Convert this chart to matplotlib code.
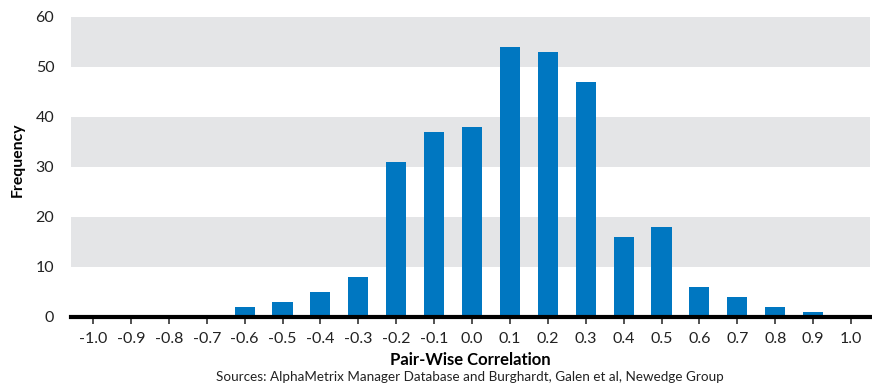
import numpy as np
import matplotlib.pyplot as plt

# ---- data ----
correlation = [-0.6, -0.5, -0.4, -0.3, -0.2, -0.1, 0.0, 0.1, 0.2, 0.3,
               0.4, 0.5, 0.6, 0.7, 0.8, 0.9]
frequency = [2, 3, 5, 8, 31, 37, 38, 54, 53, 47, 16, 18, 6, 4, 2, 1]
tick_values = [round(-1.0 + 0.1 * i, 1) for i in range(21)]
tick_labels = ["%.1f" % v for v in tick_values]
y_ticks = [0, 10, 20, 30, 40, 50, 60]
bands = [(10, 20), (30, 40), (50, 60)]

BAR_BLUE = "#0077C1"
BAND_GREY = "#E4E5E7"

plt.rcParams["font.family"] = ["Lato", "DejaVu Sans"]

fig = plt.figure(figsize=(8.72, 3.83), dpi=100)
ax = fig.add_axes([71 / 872, 1 - 316.5 / 383, (870 - 71) / 872, (316.5 - 17) / 383])

# alternating grey bands behind the bars
for lo, hi in bands:
    ax.axhspan(lo, hi, color=BAND_GREY, zorder=0, lw=0)

ax.bar(correlation, frequency, width=0.053, color=BAR_BLUE, zorder=2)

ax.set_xlim(-1.058, 1.05)
ax.set_ylim(0, 60)

ax.set_xticks(tick_values)
ax.set_xticklabels(tick_labels, fontsize=11.5, color="#222222")
ax.set_yticks(y_ticks)
ax.set_yticklabels([str(v) for v in y_ticks], fontsize=11.5, color="#222222")

ax.tick_params(axis="y", length=0, pad=12)
ax.tick_params(axis="x", length=5, width=1.2, color="#333333", pad=6, direction="out")

for side in ["top", "right", "left"]:
    ax.spines[side].set_visible(False)
ax.spines["bottom"].set_linewidth(3)
ax.spines["bottom"].set_color("black")
ax.spines["bottom"].set_zorder(3)

ax.set_xlabel("Pair-Wise Correlation", fontsize=12, fontweight="bold")
ax.xaxis.set_label_coords((470 - 71) / 799, (316.5 - 360) / 299.5)
ax.xaxis.label.set_va("center")
ax.set_ylabel("Frequency", fontsize=11.3, fontweight="bold")
ax.yaxis.set_label_coords((18 - 71) / 799, (316.5 - 160) / 299.5)
ax.yaxis.label.set_va("center")

fig.text(470 / 872, 1 - 377 / 383,
         "Sources: AlphaMetrix Manager Database and Burghardt, Galen et al, Newedge Group",
         ha="center", va="center", fontsize=9.7, color="#222222")

fig.savefig("out.png", dpi=100)
